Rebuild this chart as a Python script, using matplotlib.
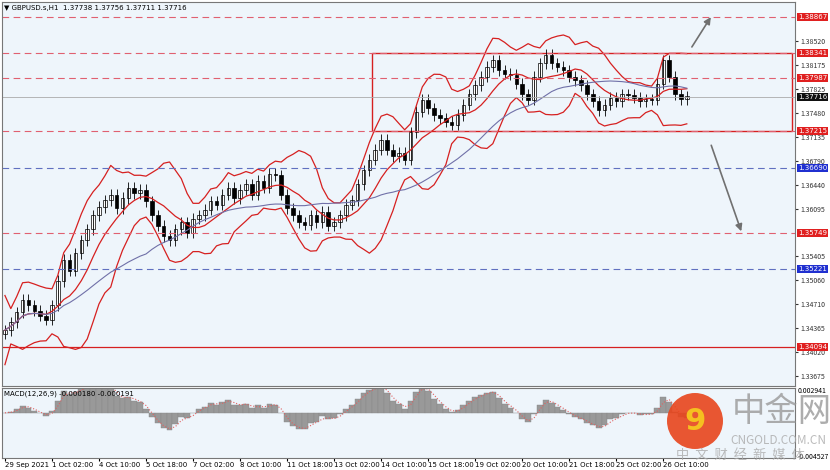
import numpy as np
import pandas as pd
import matplotlib
matplotlib.use("Agg")
import matplotlib.pyplot as plt
from matplotlib.patches import Rectangle, Ellipse

plt.rcParams['font.family'] = ['Noto Sans CJK SC', 'DejaVu Sans']

closes = [1.3434,1.3445,1.3460,1.3478, 1.3470,1.3462,1.3455,1.3449, 1.3470,1.3505,1.3536,
          1.3520,1.3545,1.3564, 1.3580,1.3600,1.3612,1.3622, 1.3630,1.3610,1.3625,1.3640,1.3632,1.3637,
          1.3620,1.3600,1.3585,1.3570,1.3564, 1.3580,1.3590,1.3575,1.3595,1.3600,1.3608,
          1.3620,1.3615,1.3630,1.3640,1.3625,1.3637, 1.3645,1.3630,1.3650,1.3640,1.3660,1.3658,
          1.3630,1.3610,1.3600,1.3590,1.3586, 1.3600,1.3590,1.3605,1.3585,1.3590,
          1.3600,1.3615,1.3622, 1.3645,1.3665,1.3680,1.3695,1.3709, 1.3695,1.3685,1.3690,1.3680,
          1.3720,1.3750,1.3767, 1.3755,1.3745,1.3740,1.3735,1.3731, 1.3745,1.3760,1.3775,1.3788,
          1.3800,1.3815,1.3824, 1.3810,1.3805,1.3803, 1.3790,1.3775,1.3767, 1.3800,1.3820,1.3832,
          1.3820,1.3815,1.3810, 1.3800,1.3795,1.3788, 1.3775,1.3765,1.3752,
          1.3760,1.3770,1.3765,1.3775,1.3774, 1.3770,1.3765,1.3768,1.3767,
          1.3790,1.3824,1.3800, 1.3775,1.3768,1.3772]
red_dash_levels = [1.38867, 1.38341, 1.37987, 1.37215, 1.35749]
blue_dash_levels = [1.36690, 1.35221]
red_solid_level = 1.34094
current_price = 1.37716
right_ticks = [1.38520, 1.38175, 1.37825, 1.37480, 1.37135, 1.36790, 1.36440, 1.36095,
               1.35405, 1.35060, 1.34710, 1.34365, 1.34020, 1.33675]
x_labels = ["29 Sep 2021","1 Oct 02:00","4 Oct 10:00","5 Oct 18:00","7 Oct 02:00","8 Oct 10:00",
            "11 Oct 18:00","13 Oct 02:00","14 Oct 10:00","15 Oct 18:00","19 Oct 02:00",
            "20 Oct 10:00","21 Oct 18:00","25 Oct 02:00","26 Oct 10:00"]

BG = '#eef5fb'
c = pd.Series(closes)
o = c.shift(1).fillna(c.iloc[0]-0.0005)
hi = np.maximum(o, c) + 0.0008
lo = np.minimum(o, c) - 0.0008
mid = c.rolling(8, min_periods=1).mean()
sd = c.rolling(8, min_periods=2).std().fillna(0.002)
up, dn = mid + 2.0*sd + 0.0010, mid - 2.0*sd - 0.0010
ma = c.rolling(25, min_periods=1).mean()
macd = c.ewm(span=3).mean() - c.ewm(span=6.5).mean()
sig = macd.rolling(2, min_periods=1).mean()

W, H = 830, 470
fig = plt.figure(figsize=(8.3, 4.7), dpi=100, facecolor='white')
ax = fig.add_axes([2/W, 1-386/H, 793/W, 384/H], facecolor=BG)
ax2 = fig.add_axes([2/W, 1-458/H, 793/W, 70/H], facecolor=BG)
step = 5.9
x = np.arange(len(closes))
xmax = 793/step
for a in (ax, ax2):
    a.set_xlim(-0.5, xmax)
    for s in a.spines.values():
        s.set_color('#777777'); s.set_linewidth(0.8)
ymin = 1.38867 - (386-17)*0.0001446
ymax = 1.38867 + 15*0.0001446
ax.set_ylim(ymin, ymax)

for i in x:
    ax.vlines(i, lo[i], hi[i], color='black', lw=0.6)
    col = 'white' if c[i] >= o[i] else 'black'
    ax.add_patch(Rectangle((i-0.3, min(o[i], c[i])), 0.6, max(abs(c[i]-o[i]), 0.00005),
                           facecolor=col, edgecolor='black', lw=0.5))
ax.plot(x, up, color='#d62020', lw=0.9)
ax.plot(x, dn, color='#d62020', lw=0.9)
ax.plot(x, mid, color='#d62020', lw=0.9)
ax.plot(x, ma, color='#7070a8', lw=0.8)

for lv in red_dash_levels:
    ax.axhline(lv, color='#e06070', ls=(0, (6, 4)), lw=0.8)
for lv in blue_dash_levels:
    ax.axhline(lv, color='#6070c0', ls=(0, (6, 4)), lw=0.8)
ax.axhline(red_solid_level, color='#d62020', lw=0.9)
ax.axhline(current_price, color='#aaaaaa', lw=0.6)
ax.add_patch(Rectangle((368/step, 1.37215), (790-368)/step, 1.38341-1.37215,
                       fill=False, edgecolor='#d62020', lw=1.0))
ax.annotate('', xy=(710/step, 1.3890), xytext=(688/step, 1.3840),
            arrowprops=dict(arrowstyle='-|>', color='#707070', lw=1.2))
ax.annotate('', xy=(740/step, 1.3573), xytext=(708/step, 1.3705),
            arrowprops=dict(arrowstyle='-|>', color='#707070', lw=1.2))

ax.yaxis.tick_right()
ax.set_yticks(right_ticks)
ax.set_yticklabels([f"{t:.5f}" for t in right_ticks])
ax.tick_params(axis='y', labelsize=5, length=2, pad=2, colors='#333333')
ax.set_xticks([])
for lv, colr in [(l, '#e02020') for l in red_dash_levels+[red_solid_level]] + \
                [(l, '#2030d0') for l in blue_dash_levels] + [(current_price, '#111111')]:
    ax.text(1.004, lv, f"{lv:.5f}", transform=ax.get_yaxis_transform(), fontsize=5,
            color='white', va='center', ha='left',
            bbox=dict(boxstyle='square,pad=0.15', fc=colr, ec='none'), family='DejaVu Sans')
ax.text(0.003, 0.993, "▼ GBPUSD.s,H1  1.37738 1.37756 1.37711 1.37716", transform=ax.transAxes,
        fontsize=5, va='top', family='DejaVu Sans')

ax2.bar(x, macd, width=1.0, color='#999999', edgecolor='#888888', lw=0.3)
ax2.plot(x, sig, color='#e06060', ls=':', lw=0.8)
ax2.set_ylim(-0.0040, 0.0022)
ax2.yaxis.tick_right()
ax2.set_yticks([0.0020, -0.0038])
ax2.set_yticklabels(["0.002941", "-0.004527"])
ax2.tick_params(axis='y', labelsize=5, length=0, pad=2)
ax2.set_xticks(np.arange(len(x_labels))*8)
ax2.set_xticklabels(x_labels, fontsize=5, ha='left', family='DejaVu Sans')
ax2.tick_params(axis='x', length=2, pad=1)
ax2.text(0.003, 0.96, "MACD(12,26,9) -0.000180 -0.000191", transform=ax2.transAxes,
         fontsize=5, va='top', family='DejaVu Sans')

# watermark
fig.patches.append(Ellipse((695/W, 1-421/H), 56/W, 56/H, transform=fig.transFigure,
                           facecolor='#e8451c', edgecolor='none', alpha=0.9))
fig.text(695/W, 1-421/H, "9", fontsize=22, color='#f5c020', ha='center', va='center',
         weight='bold', family='DejaVu Sans')
fig.text(732/W, 1-412/H, "中金网", fontsize=24, color='#999999', alpha=0.8, va='center')
fig.text(730/W, 1-441/H, "CNGOLD.COM.CN", fontsize=8.5, color='#aaaaaa', alpha=0.8, va='center')
fig.text(676/W, 1-455/H, "中  文  财  经  新  媒  体", fontsize=9.5, color='#aaaaaa', alpha=0.8, va='center')

fig.savefig("out.png", dpi=100, facecolor='white')
